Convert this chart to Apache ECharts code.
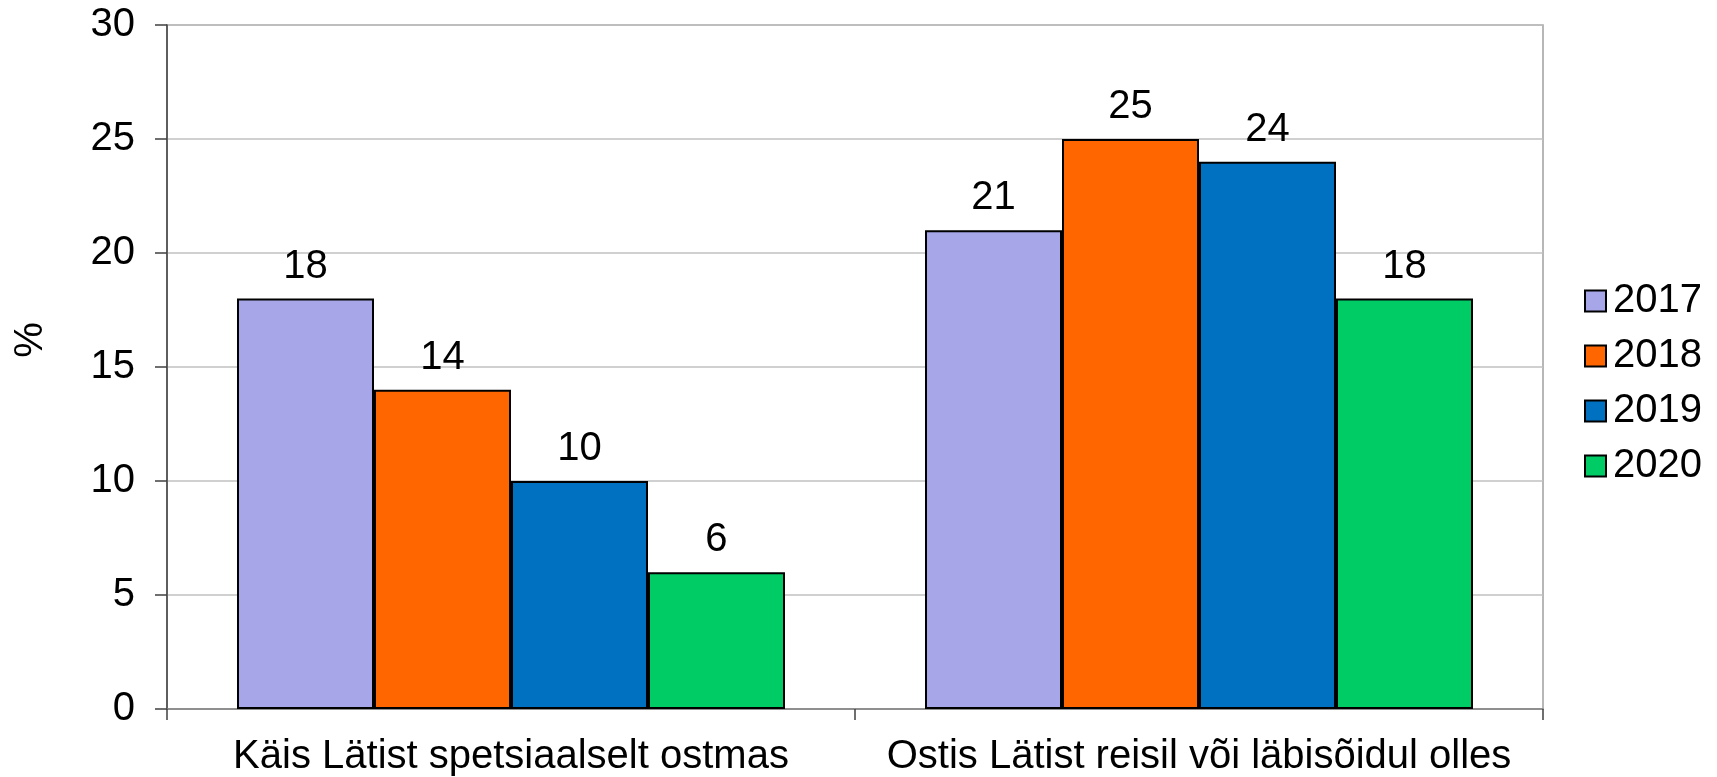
<!DOCTYPE html>
<html>
<head>
<meta charset="utf-8">
<script src="https://cdn.jsdelivr.net/npm/echarts@6/dist/echarts.min.js"></script>
<style>html,body{margin:0;padding:0;background:#fff}#c{width:1717px;height:777px}</style>
</head>
<body>
<div id="c"></div>
<script>
const categories = ['Käis Lätist spetsiaalselt ostmas', 'Ostis Lätist reisil või läbisõidul olles'];
const years = ['2017', '2018', '2019', '2020'];
const v2017 = [18, 21];
const v2018 = [14, 25];
const v2019 = [10, 24];
const v2020 = [6, 18];
const yTicks = { min: 0, max: 30, interval: 5 };
const colors = ['#A6A6E8', '#FF6600', '#0070C0', '#00CC66'];

const FONT = 'Arial, "Liberation Sans", sans-serif';
const seriesValues = [v2017, v2018, v2019, v2020];

const chart = echarts.init(document.getElementById('c'), null, { renderer: 'canvas' });
chart.setOption({
  animation: false,
  textStyle: { fontFamily: FONT },
  grid: { left: 167, right: 174, top: 25, bottom: 68, containLabel: false, outerBoundsMode: 'none',
          show: true, borderColor: '#a0a0a0', borderWidth: 1.5 },
  legend: {
    orient: 'vertical', left: 1579, top: 276,
    itemWidth: 21, itemHeight: 21, itemGap: 15,
    icon: 'rect',
    textStyle: { fontSize: 40, color: '#000', fontFamily: FONT, padding: [0, 0, 0, 2] },
    data: years
  },
  xAxis: {
    type: 'category', data: categories,
    axisLine: { lineStyle: { color: '#808080', width: 1.5 } },
    axisTick: { show: true, length: 11, lineStyle: { color: '#404040', width: 1.5 } },
    axisLabel: { interval: 0, fontSize: 40, color: '#000', margin: 28, fontFamily: FONT }
  },
  yAxis: {
    type: 'value', min: yTicks.min, max: yTicks.max, interval: yTicks.interval,
    name: '%', nameLocation: 'middle', nameGap: 116, nameRotate: 90,
    nameTextStyle: { fontSize: 40, color: '#000', fontFamily: FONT, padding: [0, 0, 0, 54] },
    axisLine: { show: true, lineStyle: { color: '#404040', width: 1.5 } },
    axisTick: { show: true, inside: false, length: 12, lineStyle: { color: '#404040', width: 1.5 } },
    axisLabel: { fontSize: 40, color: '#000', margin: 32, fontFamily: FONT },
    splitLine: { show: true, lineStyle: { color: '#c0c0c0', width: 1.5 } }
  },
  series: years.map((y, i) => ({
    name: y, type: 'bar', data: seriesValues[i],
    barGap: 0, barCategoryGap: '20.35%',
    itemStyle: { color: colors[i], borderColor: '#000', borderWidth: 2 },
    label: { show: true, position: 'top', distance: 12, fontSize: 40, color: '#000', fontFamily: FONT }
  }))
});
</script>
</body>
</html>
